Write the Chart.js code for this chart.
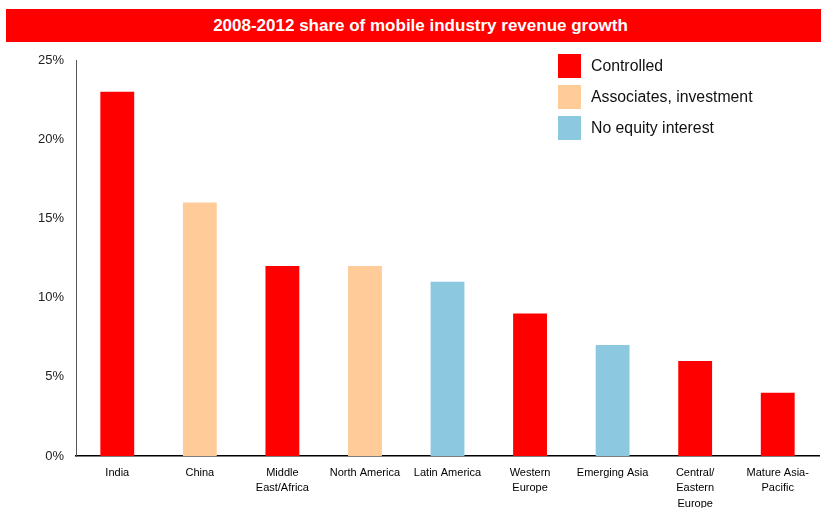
<!DOCTYPE html>
<html>
<head>
<meta charset="utf-8">
<script src="https://cdn.jsdelivr.net/npm/chart.js@4"></script>
<style>
  body { margin: 0; background: #fff; font-family: "Liberation Sans", Arial, sans-serif; }
  #wrap { position: relative; width: 821px; height: 508px; overflow: hidden; }
  #title {
    position: absolute; left: 6px; top: 9px; width: 815px; height: 33px;
    background: #ff0000; color: #fff; font-weight: bold; font-size: 17px;
    line-height: 33px; text-align: center; padding-left: 14px; box-sizing: border-box;
  }
  #legend { position: absolute; left: 558px; top: 50px; font-size: 15.8px; color: #111; }
  .item { display: flex; align-items: center; height: 31px; }
  .box { width: 23px; height: 24px; margin-right: 10px; }
  canvas { position: absolute; left: 0; top: 0; }
</style>
</head>
<body>
<div id="wrap">
  <canvas id="chart" width="821" height="508"></canvas>
  <div id="title">2008-2012 share of mobile industry revenue growth</div>
  <div id="legend"></div>
</div>
<script>
/* DATA */

const categories = ["India", "China", ["Middle", "East/Africa"], "North America", "Latin America",
    ["Western", "Europe"], "Emerging Asia", ["Central/", "Eastern", "Europe"], ["Mature Asia-", "Pacific"]];
const shares = [23, 16, 12, 12, 11, 9, 7, 6, 4];
const groups = [0, 1, 0, 1, 2, 0, 2, 0, 0];
const groupNames = ["Controlled", "Associates, investment", "No equity interest"];
const groupColors = ["#ff0000", "#ffcc99", "#8cc8e0"];
const yTicks = [0, 5, 10, 15, 20, 25];

/* LEGEND */

const legend = document.getElementById("legend");
groupNames.forEach((name, i) => {
    const row = document.createElement("div");
    row.className = "item";
    row.innerHTML = '<div class="box" style="background:' + groupColors[i] + '"></div><span>' + name + '</span>';
    legend.appendChild(row);
});

/* CHART */

const ctx = document.getElementById("chart");

new Chart(ctx, {
    type: "bar",
    data: {
        labels: categories,
        datasets: [{
            data: shares,
            backgroundColor: groups.map(g => groupColors[g]),
            barPercentage: 0.41,
            categoryPercentage: 1
        }]
    },
    options: {
        responsive: false,
        animation: false,
        layout: { padding: { top: 60, right: 2, left: 0, bottom: 0 } },
        plugins: {
            legend: { display: false },
            tooltip: { enabled: false }
        },
        scales: {
            x: {
                grid: { display: false, drawTicks: false },
                border: { display: true, color: "#000", width: 1.5 },
                ticks: {
                    autoSkip: false, maxRotation: 0, padding: 9,
                    color: "#000", font: { family: "Liberation Sans", size: 11, lineHeight: 1.42 }
                },
                afterFit: (s) => { s.height = 52; }
            },
            y: {
                min: 0, max: 25,
                afterBuildTicks: (s) => { s.ticks = yTicks.map(v => ({ value: v })); },
                grid: { display: false, drawTicks: false },
                border: { display: true, color: "#555", width: 1 },
                ticks: {
                    padding: 12, color: "#222",
                    font: { family: "Liberation Sans", size: 13 },
                    callback: (v) => v + "%"
                },
                afterFit: (s) => { s.width = 76; }
            }
        }
    }
});
</script>
</body>
</html>
